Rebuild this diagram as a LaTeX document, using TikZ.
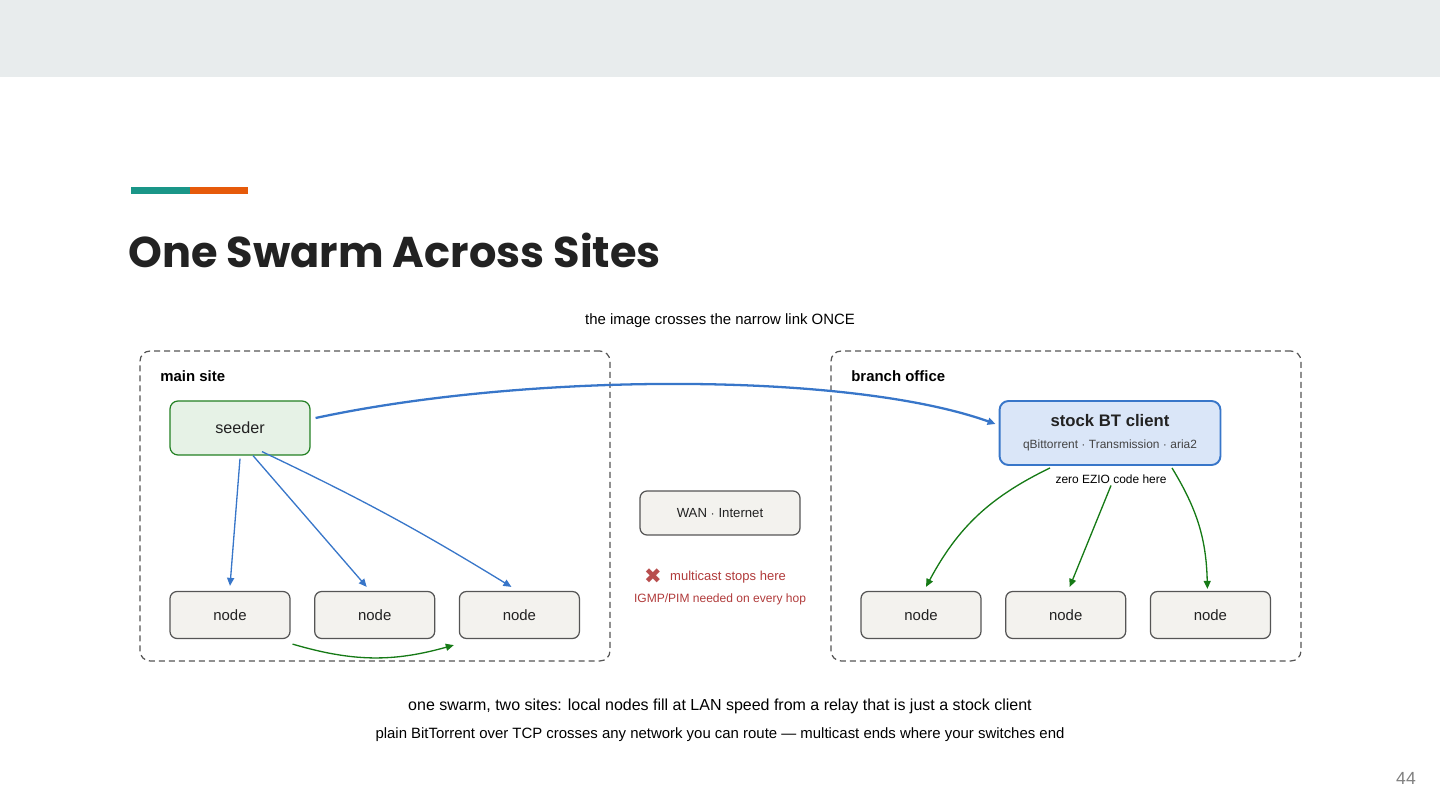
\documentclass[tikz,border=0pt]{standalone}
\usepackage{fontspec}
\setmainfont{Liberation Sans}
\newfontfamily\titlefont{Poppins}
\usepackage{xcolor}
\usetikzlibrary{arrows.meta, positioning, calc}
\definecolor{band}{RGB}{232,236,237}
\definecolor{accentA}{RGB}{26,150,136}
\definecolor{accentB}{RGB}{230,90,10}
\definecolor{seedfill}{RGB}{230,242,230}
\definecolor{seedline}{RGB}{34,128,34}
\definecolor{clientfill}{RGB}{218,230,248}
\definecolor{flow}{RGB}{56,118,201}
\definecolor{lan}{RGB}{22,122,22}
\definecolor{boxfill}{RGB}{243,242,238}
\definecolor{boxline}{RGB}{85,85,85}
\definecolor{warn}{RGB}{176,58,58}
\definecolor{ink}{RGB}{34,34,34}

\tikzset{
  sitebox/.style={draw=boxline, dash pattern=on 1.2mm off 0.8mm, line width=0.7pt,
    rounded corners=2mm, minimum width=9.4cm, minimum height=6.2cm},
  peer/.style={draw=boxline, fill=boxfill, line width=0.7pt, rounded corners=1.4mm,
    minimum width=2.4cm, minimum height=0.94cm, font=\fontsize{8.5}{10}\selectfont, text=ink},
  seedbox/.style={draw=seedline, fill=seedfill, line width=0.7pt, rounded corners=1.6mm,
    minimum width=2.8cm, minimum height=1.08cm, font=\fontsize{9.2}{11}\selectfont, text=ink},
  clientbox/.style={draw=flow, fill=clientfill, line width=1.1pt, rounded corners=1.8mm,
    minimum width=4.42cm, minimum height=1.28cm},
  flowline/.style={draw=flow, line width=0.75pt, -{Triangle[length=1.6mm,width=1.4mm]}},
  lanline/.style={draw=lan, line width=0.75pt, -{Triangle[length=1.6mm,width=1.4mm]}},
  sitelabel/.style={anchor=west, inner sep=0pt, font=\bfseries\fontsize{8.5}{10}\selectfont},
  note/.style={font=\fontsize{8.5}{10}\selectfont, text=black},
}

\begin{document}
\begin{tikzpicture}[x=0.02cm, y=-0.02cm]
  \useasboundingbox (0,0) rectangle (1440,810);

  % header band and accent bar
  \fill[band] (0,0) rectangle (1440,77);
  \fill[accentA] (131,187) rectangle (190,194);
  \fill[accentB] (190,187) rectangle (248,194);
  \node[anchor=west, font=\titlefont\bfseries\fontsize{24.5}{29}\selectfont, text=ink,
    inner sep=0pt] (title) at (128,250) {One Swarm Across Sites};

  % caption over the link
  \node[note] (oncelabel) at (720,321) {the image crosses the narrow link ONCE};

  % the two sites
  \node[sitebox] (mainsite) at (375,506) {};
  \node[sitebox] (branch) at (1066,506) {};
  \node[sitelabel] at (160,376) {main site};
  \node[sitelabel] at (851,376) {branch office};

  % main site
  \node[seedbox] (seeder) at (240,428) {seeder};
  \node[peer] (m1) at (230,615) {node};
  \node[peer, right=0.47cm of m1] (m2) {node};
  \node[peer, right=0.47cm of m2] (m3) {node};

  % branch office
  \node[clientbox] (client) at (1110,433) {};
  \node[font=\bfseries\fontsize{9.5}{11}\selectfont, text=ink] at (1110,421) {stock BT client};
  \node[font=\fontsize{6.8}{8}\selectfont, text=ink!85] at (1110,445)
    {qBittorrent $\cdot$ Transmission $\cdot$ aria2};
  \node[font=\fontsize{6.8}{8}\selectfont, inner sep=1pt] (ezio) at (1111,479) {zero EZIO code here};
  \node[peer] (b1) at (921,615) {node};
  \node[peer, right=0.47cm of b1] (b2) {node};
  \node[peer, right=0.47cm of b2] (b3) {node};

  % the WAN in between
  \node[peer, minimum width=3.2cm, minimum height=0.88cm, font=\fontsize{7.5}{9}\selectfont]
    (wan) at (720,513) {WAN $\cdot$ Internet};
  \node[text=warn!90, font=\fontsize{12}{13}\selectfont, inner sep=0pt] (cross) at (653,576) {\fontspec{DejaVu Sans}✖};
  \node[anchor=west, text=warn, font=\fontsize{7.4}{9}\selectfont] (mcast) at (664,577) {multicast stops here};
  \node[text=warn, font=\fontsize{6.85}{8}\selectfont] (igmp) at (720,599) {IGMP/PIM needed on every hop};

  % connectors
  \draw[flowline, line width=1.3pt] ($(seeder.east)+(5,-10)$) .. controls (530,372) and (850,372)
    .. ($(client.west)+(-3,-9)$);
  \draw[flowline] ($(seeder.south)+(0,3)$) -- ($(m1.north)+(0,-5)$);
  \draw[flowline] ($(seeder.south)+(13,0)$) -- ($(m2.north)+(-8,-4)$);
  \draw[flowline] ($(seeder.south)+(22,-4)$) to[bend left=3] ($(m3.north)+(-8,-4)$);
  \draw[lanline] ($(m1.south east)+(2,5)$) to[bend right=16] ($(m3.south west)+(-5,6)$);

  \draw[lanline] ($(client.south)+(-60,2)$) to[bend right=18] ($(b1.north)+(5,-4)$);
  \draw[lanline] (ezio.south) -- ($(b2.north)+(4,-4)$);
  \draw[lanline] ($(client.south)+(62,2)$) to[bend left=15] ($(b3.north)+(-3,-2)$);

  % bottom summary
  \node[font=\fontsize{9.1}{11}\selectfont] (sum1) at (720,706)
    {one swarm, two sites: local nodes fill at LAN speed from a relay that is just a stock client};
  \node[font=\fontsize{8.5}{10}\selectfont] (sum2) at (720,735)
    {plain BitTorrent over TCP crosses any network you can route --- multicast ends where your switches end};

  % page number
  \node[text=gray, font=\fontsize{10}{12}\selectfont] (pagenum) at (1406,778) {44};
\end{tikzpicture}
\end{document}
